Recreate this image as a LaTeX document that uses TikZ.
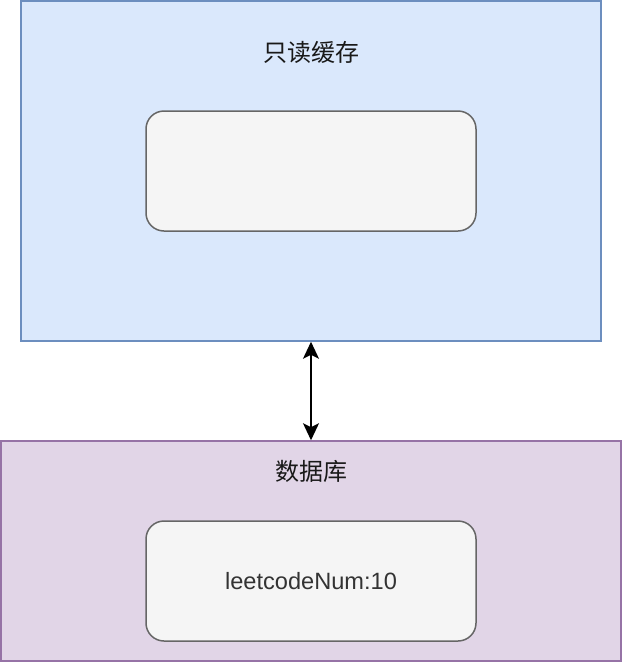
\documentclass[tikz,border=0pt]{standalone}
\usepackage{fontspec}
\setmainfont{Liberation Sans}
\newfontfamily\cjk{Noto Sans CJK SC}
\usetikzlibrary{arrows.meta,positioning}
\definecolor{cachefill}{HTML}{DAE8FC}
\definecolor{cacheline}{HTML}{6C8EBF}
\definecolor{dbfill}{HTML}{E1D5E7}
\definecolor{dbline}{HTML}{9673A6}
\definecolor{itemfill}{HTML}{F5F5F5}
\definecolor{itemline}{HTML}{666666}
\definecolor{itemtext}{HTML}{333333}
\tikzset{
  >={Stealth[length=17pt,width=16pt,inset=4pt]},
  layer/.style={draw, line width=1.5pt, inner sep=0pt},
  item/.style ={draw=itemline, fill=itemfill, line width=1.5pt, rounded corners=18pt,
                minimum width=330pt, minimum height=120pt, inner sep=0pt,
                text=itemtext, font=\fontsize{23.6}{28}\selectfont},
  title/.style={text=black!90, font=\fontsize{24}{28}\selectfont\cjk, inner sep=0pt}
}
\begin{document}
\begin{tikzpicture}[x=1pt, y=-1pt]
\useasboundingbox (0,0) rectangle (622,662);
% read-only cache layer
\node[layer, draw=cacheline, fill=cachefill, minimum width=580pt, minimum height=340pt]
  (cache) at (311,171) {};
\node[title] (cachetitle) at (311,52) {只读缓存};
\node[item] (cacheitem) at (311,171) {};
% database layer
\node[layer, draw=dbline, fill=dbfill, minimum width=620pt, minimum height=220pt]
  (db) at (311,551) {};
\node[title] (dbtitle) at (311,471) {数据库};
\node[item] (dbitem) at (311,581) {leetcodeNum:10};
% link
\draw[<->, line width=1.5pt] (cache.south) -- (db.north);
\end{tikzpicture}
\end{document}
